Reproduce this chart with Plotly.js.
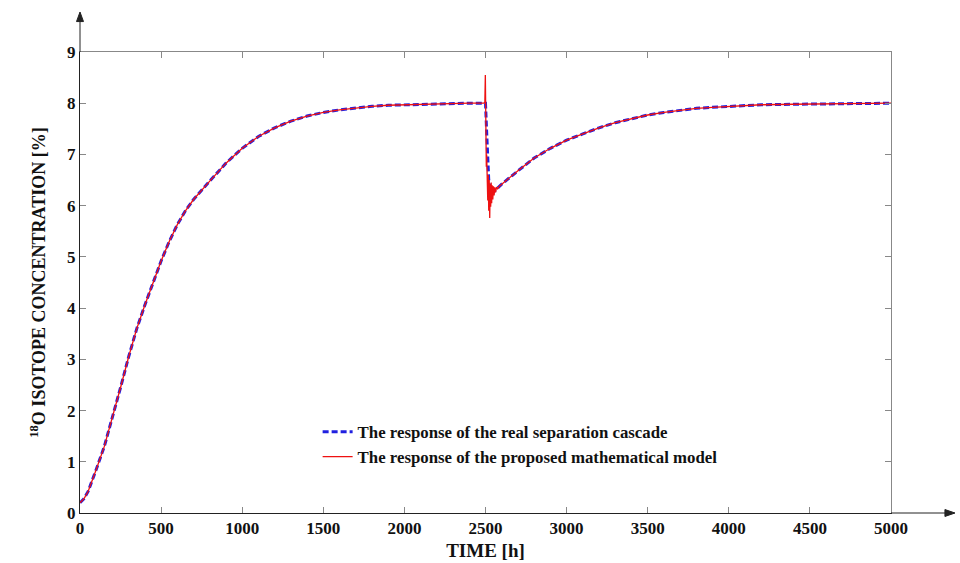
<!DOCTYPE html>
<html>
<head>
<meta charset="utf-8">
<script src="https://cdn.plot.ly/plotly-3.0.1.min.js"></script>
<style>html,body{margin:0;padding:0;background:#fff;}#chart{width:960px;height:563px;}</style>
</head>
<body>
<div id="chart"></div>
<script>
// Initial rise (both curves coincide)
const riseTime   = [0, 25, 50, 75, 100, 150, 200, 250, 300, 350, 400, 450, 500, 550, 600, 650, 700, 800, 900, 1000, 1100, 1200, 1300, 1400, 1500, 1600, 1700, 1800, 1900, 2000, 2100, 2200, 2300, 2400, 2490];
const riseValues = [0.2, 0.28, 0.42, 0.62, 0.85, 1.3, 1.85, 2.45, 3.05, 3.6, 4.06, 4.5, 4.92, 5.3, 5.63, 5.9, 6.12, 6.48, 6.83, 7.12, 7.35, 7.52, 7.65, 7.75, 7.82, 7.87, 7.91, 7.94, 7.96, 7.97, 7.98, 7.99, 8.0, 8.0, 8.0];

// Real cascade response after the disturbance at t = 2500 h
const realDisturbTime   = [2500, 2505, 2510, 2515, 2520, 2530, 2545, 2560, 2600, 2700, 2800, 2900, 3000, 3100, 3200, 3300, 3400, 3500, 3600, 3700, 3800, 3900, 4000, 4200, 4400, 4600, 4800, 5000];
const realDisturbValues = [8.0, 7.6, 7.2, 6.8, 6.5, 6.28, 6.25, 6.3, 6.42, 6.68, 6.93, 7.12, 7.28, 7.4, 7.52, 7.62, 7.7, 7.77, 7.82, 7.86, 7.9, 7.92, 7.94, 7.97, 7.98, 7.99, 8.0, 8.0];

// Model response around the disturbance (oscillating)
const modelDisturbTime   = [2496, 2499, 2501, 2503, 2505, 2507, 2509, 2511, 2514, 2517, 2520, 2523, 2526, 2529, 2532, 2535, 2538, 2541, 2545, 2549, 2553, 2557, 2562, 2568, 2575, 2585, 2595];
const modelDisturbValues = [8.02, 8.55, 7.1, 8.3, 6.76, 7.0, 6.45, 6.75, 6.1, 6.6, 5.9, 6.5, 5.76, 6.42, 5.98, 6.45, 6.05, 6.4, 6.12, 6.38, 6.2, 6.36, 6.26, 6.36, 6.33, 6.38, 6.41];

const legendNames = ["The response of the real separation cascade", "The response of the proposed mathematical model"];
const xTicks = [0, 500, 1000, 1500, 2000, 2500, 3000, 3500, 4000, 4500, 5000];
const yTicks = [0, 1, 2, 3, 4, 5, 6, 7, 8, 9];

const realT = riseTime.concat(realDisturbTime);
const realV = riseValues.concat(realDisturbValues);
const afterIdx = realDisturbTime.findIndex(t => t >= 2600);
const modelT = riseTime.concat(modelDisturbTime, realDisturbTime.slice(afterIdx));
const modelV = riseValues.concat(modelDisturbValues, realDisturbValues.slice(afterIdx));

const font = {family: "Liberation Serif, Times New Roman, serif", color: "#111"};

const traces = [
  {x: realT, y: realV, type: "scatter", mode: "lines", name: legendNames[0],
   line: {color: "#2020e0", width: 3, dash: "6px,3px"}},
  {x: modelT, y: modelV, type: "scatter", mode: "lines", name: legendNames[1],
   line: {color: "#ee1111", width: 1.3}}
];

const layout = {
  width: 960, height: 563,
  margin: {l: 80, r: 69, t: 52, b: 50},
  paper_bgcolor: "#fff", plot_bgcolor: "#fff",
  font: Object.assign({}, font, {size: 16}),
  showlegend: true,
  legend: {x: 0.293, y: 0.214, xanchor: "left", yanchor: "top", bgcolor: "rgba(0,0,0,0)",
           font: Object.assign({}, font, {size: 16.8, weight: "bold"}), tracegroupgap: 0, itemwidth: 30},
  xaxis: {range: [0, 5000], tickvals: xTicks, ticktext: xTicks.map(String), showgrid: false, zeroline: false,
          showline: true, linecolor: "#222", linewidth: 1, ticks: "inside", ticklen: 6, tickcolor: "#888",
          tickfont: Object.assign({}, font, {size: 17, weight: "bold"}),
          title: {text: "TIME [h]", font: Object.assign({}, font, {size: 19, weight: "bold"}), standoff: 6}},
  yaxis: {range: [0, 9], tickvals: yTicks, ticktext: yTicks.map(String), showgrid: false, zeroline: false,
          showline: true, linecolor: "#222", linewidth: 1, ticks: "inside", ticklen: 6, tickcolor: "#888",
          tickfont: Object.assign({}, font, {size: 17, weight: "bold"}),
          title: {text: "<sup>18</sup>O ISOTOPE CONCENTRATION [%]", font: Object.assign({}, font, {size: 18, weight: "bold"}), standoff: 16}},
  xaxis2: {overlaying: "x", side: "top", anchor: "y", range: [0, 5000], tickvals: xTicks, showticklabels: false,
           showgrid: false, zeroline: false, showline: true, linecolor: "#888", ticks: "inside", ticklen: 6, tickcolor: "#888"},
  yaxis2: {overlaying: "y", side: "right", anchor: "x", range: [0, 9], tickvals: yTicks, showticklabels: false,
           showgrid: false, zeroline: false, showline: true, linecolor: "#888", ticks: "inside", ticklen: 6, tickcolor: "#888"},
  shapes: [
    {type: "line", xref: "paper", yref: "paper", x0: 1, x1: 1.07, y0: 0, y1: 0, line: {color: "#222", width: 1}},
    {type: "path", xref: "paper", yref: "paper", path: "M 1.0789 0 L 1.0665 0.0075 L 1.0665 -0.0075 Z",
     fillcolor: "#222", line: {color: "#222", width: 1}},
    {type: "line", xref: "paper", yref: "paper", x0: 0, x1: 0, y0: 1, y1: 1.075, line: {color: "#222", width: 1}},
    {type: "path", xref: "paper", yref: "paper", path: "M 0 1.0868 L 0.0043 1.066 L -0.0043 1.066 Z",
     fillcolor: "#222", line: {color: "#222", width: 1}}
  ]
};

Plotly.newPlot("chart", traces.concat([{x: [], y: [], xaxis: "x2", yaxis: "y2", showlegend: false, hoverinfo: "skip"}]), layout, {displayModeBar: false, staticPlot: true});
</script>
</body>
</html>
